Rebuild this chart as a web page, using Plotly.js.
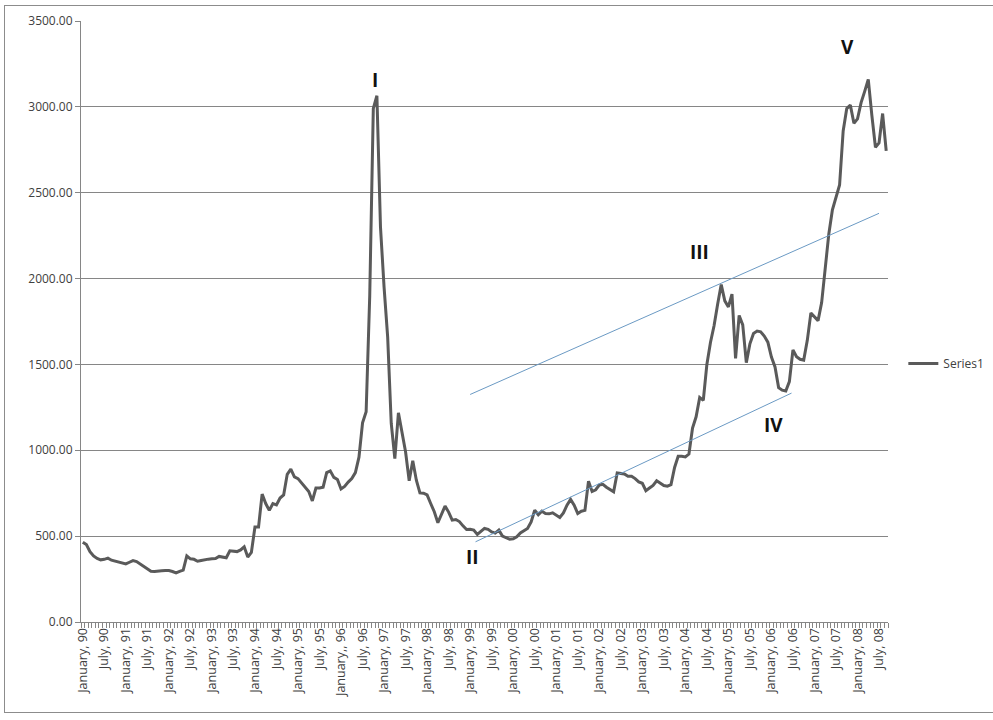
<!DOCTYPE html>
<html>
<head>
<meta charset="utf-8">
<script src="https://cdn.plot.ly/plotly-3.0.1.min.js"></script>
<style>
  html, body { margin: 0; padding: 0; background: #ffffff; }
  #chart { width: 993px; height: 720px; position: absolute; left: 0; top: 0; }
  #frame { position: absolute; left: 4px; top: 5px; width: 995px; height: 708px;
           border: 1px solid #8c8c8c; pointer-events: none; box-sizing: border-box; }
</style>
</head>
<body>
<div id="chart"></div>
<div id="frame"></div>
<script>
// Monthly values, January 1990 .. September 2008
const values = [
  465, 451, 410, 385, 370, 362, 365, 372, 360, 355, 352, 345,      // 1990
  338, 348, 358, 352, 338, 320, 305, 295, 294, 294, 298, 300,      // 1991
  300, 294, 286, 295, 302, 385, 368, 365, 354, 358, 364, 366,      // 1992
  368, 370, 382, 378, 374, 415, 414, 410, 420, 438, 378, 405,      // 1993
  553, 553, 745, 690, 650, 690, 682, 722, 740, 860, 890, 845,      // 1994
  835, 810, 785, 760, 705, 780, 780, 785, 870, 880, 842, 830,      // 1995
  775, 790, 815, 835, 870, 960, 1160, 1224, 1900, 2990, 3065, 2300, // 1996
  1950, 1660, 1156, 952, 1218, 1100, 990, 822, 939, 826, 752, 750, // 1997
  740, 690, 642, 578, 632, 675, 640, 593, 597, 585, 560, 539,      // 1998
  540, 535, 510, 530, 545, 540, 525, 518, 535, 500, 490, 482,      // 1999
  485, 496, 519, 530, 545, 583, 651, 625, 645, 632, 630, 636,      // 2000
  620, 609, 635, 680, 714, 680, 632, 645, 650, 820, 760, 770,      // 2001
  797, 802, 785, 770, 758, 868, 866, 862, 849, 849, 835, 816,      // 2002
  808, 765, 780, 795, 822, 808, 795, 791, 800, 900, 965, 965,      // 2003
  961, 978, 1130, 1195, 1308, 1291, 1500, 1628, 1725, 1850, 1965, 1870, // 2004
  1835, 1910, 1535, 1785, 1730, 1510, 1620, 1680, 1694, 1690, 1665, 1630, // 2005
  1543, 1485, 1365, 1350, 1345, 1400, 1585, 1545, 1530, 1525, 1640, 1800, // 2006
  1775, 1755, 1860, 2050, 2260, 2400, 2470, 2545, 2860, 2990, 3010, 2905, // 2007
  2930, 3025, 3090, 3160, 2950, 2765, 2790, 2961, 2744                // 2008
];

// Tick labels (every sixth month), as printed on the original
const tickLabels = [
  "January, 90", "July, 90", "January, 91", "July, 91", "January, 92", "July, 92",
  "January, 93", "July, 93", "January, 94", "July, 94", "January, 95", "July, 95",
  "January,, 96", "July, 96", "January, 97", "July, 97", "January, 98", "July, 98",
  "January, 99", "July, 99", "January, 00", "July, 00", "January, 01", "July, 01",
  "January, 02", "July, 02", "January, 03", "July, 03", "January, 04", "July, 04",
  "January, 05", "July, 05", "January, 06", "July, 06", "January, 07", "July, 07",
  "January, 08", "July, 08"
];

// Hand-drawn channel lines (month index, value)
const upperLineX = [108, 222];
const upperLineY = [1325, 2380];
const lowerLineX = [109.5, 197.6];
const lowerLineY = [467, 1333];

// Wave labels and their anchors (month index, value)
const waveLabels = ["I", "II", "III", "IV", "V"];
const waveX = [81.5, 108.7, 171.9, 192.7, 213.2];
const waveY = [3156, 377, 2156, 1147, 3350];

const months = values.map((v, i) => i);
const tickvals = tickLabels.map((t, k) => k * 6);

const gridGray = '#868686';
const textGray = '#404040';
const font = "'Open Sans', 'DejaVu Sans', sans-serif";

const traces = [
  {
    x: months, y: values, type: 'scatter', mode: 'lines', name: 'Series1',
    line: { color: '#5a5a5a', width: 3 }, showlegend: true
  },
  {
    x: upperLineX, y: upperLineY, type: 'scatter', mode: 'lines',
    line: { color: '#6b9ac4', width: 1 }, showlegend: false, hoverinfo: 'skip'
  },
  {
    x: lowerLineX, y: lowerLineY, type: 'scatter', mode: 'lines',
    line: { color: '#6b9ac4', width: 1 }, showlegend: false, hoverinfo: 'skip'
  }
];

const annotations = waveLabels.map((t, k) => ({
  x: waveX[k], y: waveY[k], xref: 'x', yref: 'y', text: t, showarrow: false,
  font: { family: font, size: 19, color: '#111111', weight: 'bold' },
  xanchor: 'center', yanchor: 'middle'
}));

const layout = {
  width: 993, height: 720,
  margin: { l: 81, r: 105, t: 21, b: 98, pad: 0, autoexpand: false },
  paper_bgcolor: '#ffffff', plot_bgcolor: '#ffffff',
  font: { family: font, size: 12, color: textGray },
  showlegend: true,
  legend: {
    x: 1.019, y: 0.43, xanchor: 'left', yanchor: 'middle',
    font: { family: font, size: 12, color: textGray },
    bgcolor: 'rgba(0,0,0,0)', borderwidth: 0, itemwidth: 30
  },
  xaxis: {
    type: 'linear', range: [-0.5, values.length - 0.5],
    tickmode: 'array', tickvals: tickvals, ticktext: tickLabels,
    tickangle: -90, ticks: '', ticklen: 5,
    tickfont: { family: font, size: 12.5, color: textGray },
    showgrid: false, zeroline: false, automargin: false,
    showline: true, linecolor: gridGray, linewidth: 1,
    minor: { tickmode: 'linear', tick0: -0.5, dtick: 1, ticks: 'outside',
             ticklen: 5, tickcolor: gridGray, tickwidth: 1, showgrid: false }
  },
  yaxis: {
    range: [0, 3500], tickmode: 'linear', tick0: 0, dtick: 500,
    tickformat: '.2f', ticks: 'outside', ticklen: 5, tickcolor: gridGray,
    tickfont: { family: font, size: 12, color: textGray },
    showgrid: true, gridcolor: gridGray, gridwidth: 1, automargin: false,
    zeroline: false, showline: true, linecolor: gridGray, linewidth: 1
  },
  annotations: annotations
};

Plotly.newPlot('chart', traces, layout, { displayModeBar: false, staticPlot: true });
</script>
</body>
</html>
